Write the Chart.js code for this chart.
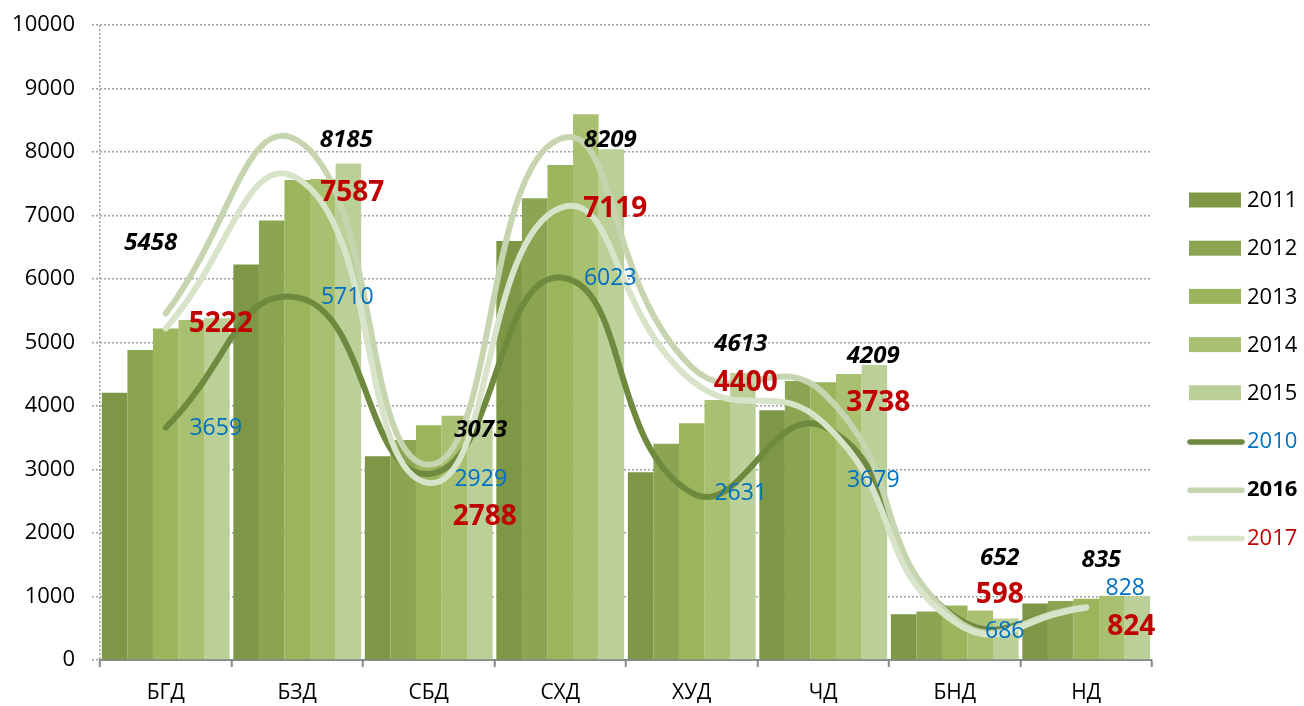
<!DOCTYPE html>
<html>
<head>
<meta charset="utf-8">
<script src="https://cdn.jsdelivr.net/npm/chart.js@4.4.1/dist/chart.umd.min.js"></script>
<style>
  html, body { margin: 0; padding: 0; background: #fff; }
  #wrap { width: 1304px; height: 706px; }
</style>
</head>
<body>
<div id="wrap"><canvas id="chart"></canvas></div>
<script>
const categories = ['БГД', 'БЗД', 'СБД', 'СХД', 'ХУД', 'ЧД', 'БНД', 'НД'];
const v2011 = [4210, 6230, 3210, 6600, 2955, 3935, 720, 890];
const v2012 = [4880, 6920, 3465, 7270, 3405, 4395, 765, 930];
const v2013 = [5220, 7560, 3695, 7795, 3730, 4375, 860, 965];
const v2014 = [5355, 7575, 3845, 8595, 4095, 4505, 780, 1010];
const v2015 = [5380, 7820, 3780, 8045, 4520, 4645, 655, 1005];
const v2010 = [3659, 5710, 2929, 6023, 2631, 3679, 686, 828];
const v2016 = [5458, 8185, 3073, 8209, 4613, 4209, 652, 835];
const v2017 = [5222, 7587, 2788, 7119, 4400, 3738, 598, 824];

// label offsets (px) from each line point, per category
const labelOffsets = {
  '2016': { dx: [-15, 49, 52, 50, 49, 50, 45, 15], dy: [-70, 0, -35, 1, -23, -37, -60, -47] },
  '2017': { dx: [55, 55, 56, 55, 54, 55, 45, 45], dy: [-4, 15, 34, 1, 2, -20, -27, 19] },
  '2010': { dx: [50, 50, 52, 50, 49, 50, 50, 39], dy: [1, 0, 5, 1, 1, 54, 15, -19] }
};
const labelStyle = {
  '2016': { font: 'italic bold 24px "Open Sans"', color: '#000000' },
  '2017': { font: 'bold 28px "Open Sans"', color: '#c00000' },
  '2010': { font: '23px "Open Sans"', color: '#0070c0' }
};
const legendText = {
  '2010': { font: '22px "Open Sans"', color: '#0070c0' },
  '2016': { font: 'bold 22px "Open Sans"', color: '#000000' },
  '2017': { font: '22px "Open Sans"', color: '#c00000' }
};

const bar = (label, data, color) => ({
  type: 'bar', label, data, backgroundColor: color, order: 10,
  categoryPercentage: 0.972, barPercentage: 1.0, borderWidth: 0
});
const line = (label, data, color, order) => ({
  type: 'line', label, data, borderColor: color, backgroundColor: color,
  borderWidth: 6, tension: 0.5, pointRadius: 0, borderCapStyle: 'round', fill: false, order
});

const valueLabels = {
  id: 'valueLabels',
  afterDatasetsDraw(chart) {
    const ctx = chart.ctx;
    ctx.save();
    ctx.textAlign = 'center';
    ctx.textBaseline = 'middle';
    chart.data.datasets.forEach((ds, di) => {
      if (ds.type !== 'line') return;
      const off = labelOffsets[ds.label], st = labelStyle[ds.label];
      const meta = chart.getDatasetMeta(di);
      ctx.font = st.font;
      ctx.fillStyle = st.color;
      meta.data.forEach((pt, i) => {
        ctx.fillText(String(ds.data[i]), pt.x + off.dx[i], pt.y + off.dy[i]);
      });
    });
    ctx.restore();
  }
};

const sideLegend = {
  id: 'sideLegend',
  afterDraw(chart) {
    const ctx = chart.ctx;
    const dsets = chart.data.datasets;
    const items = dsets.filter(d => d.type === 'bar').concat(dsets.filter(d => d.type === 'line'));
    ctx.save();
    ctx.textBaseline = 'middle';
    ctx.textAlign = 'left';
    items.forEach((d, k) => {
      const y = 200 + k * 48.2;
      if (d.type === 'bar') {
        ctx.fillStyle = d.backgroundColor;
        ctx.fillRect(1189, y - 7.5, 52, 15);
      } else {
        ctx.strokeStyle = d.borderColor;
        ctx.lineWidth = 5.5;
        ctx.lineCap = 'round';
        ctx.beginPath();
        ctx.moveTo(1190, y + 1);
        ctx.lineTo(1242, y + 1);
        ctx.stroke();
      }
      const t = legendText[d.label] || { font: '22px "Open Sans"', color: '#000' };
      ctx.font = t.font;
      ctx.fillStyle = t.color;
      ctx.fillText(d.label, 1247, y + 1);
    });
    ctx.restore();
  }
};

new Chart(document.getElementById('chart'), {
  data: {
    labels: categories,
    datasets: [
      bar('2011', v2011, '#7e9746'),
      bar('2012', v2012, '#8ba552'),
      bar('2013', v2013, '#9ab55b'),
      bar('2014', v2014, '#a8c06f'),
      bar('2015', v2015, '#bbd098'),
      line('2010', v2010, '#6e8a3e', 3),
      line('2016', v2016, '#c6d5b0', 2),
      line('2017', v2017, '#d8e4c9', 1)
    ]
  },
  options: {
    responsive: true,
    maintainAspectRatio: false,
    animation: false,
    layout: { padding: { top: 25, right: 152, left: 0, bottom: 0 } },
    plugins: { legend: { display: false }, tooltip: { enabled: false } },
    scales: {
      x: {
        offset: true,
        grid: {
          offset: true,
          color: ctx => ctx.index === 0 ? '#a0a0a0' : 'transparent',
          lineWidth: 1.5,
          tickColor: '#888888',
          tickWidth: 2,
          tickLength: 7,
          tickBorderDash: []
        },
        border: { color: '#888888', width: 2, dash: [2, 2] },
        ticks: { color: '#000', font: { family: 'Open Sans', size: 21 }, padding: 13 },
        afterFit: s => { s.height = 46; s.paddingLeft = 0; s.paddingRight = 0; }
      },
      y: {
        min: 0, max: 10000,
        ticks: {
          stepSize: 1000, color: '#000', font: { family: 'Open Sans', size: 22 }, padding: 17,
          callback: v => String(v)
        },
        grid: { color: '#a0a0a0', lineWidth: 1.5, tickLength: 8, tickColor: '#a0a0a0', tickBorderDash: [2, 2] },
        border: { display: false, dash: [2, 2] },
        afterFit: s => { s.width = 100; s.paddingTop = 0; s.paddingBottom = 0; }
      }
    }
  },
  plugins: [valueLabels, sideLegend]
});
</script>
</body>
</html>
